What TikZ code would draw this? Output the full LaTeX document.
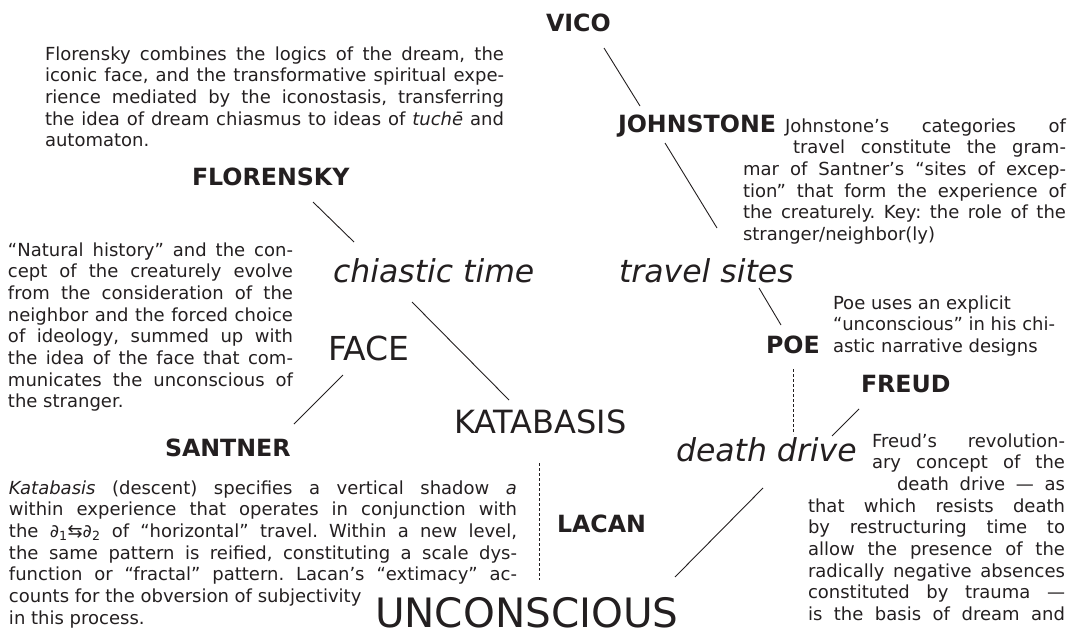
\documentclass[tikz,border=0pt]{standalone}
\usepackage{fontspec}
\setmainfont{DejaVu Sans}
\usepackage{xcolor}
\usepackage{tikz}

\definecolor{ink}{RGB}{35,31,32}

\begin{document}
\begin{tikzpicture}[
  x=1pt, y=-1pt,
  every node/.style={inner sep=0pt, outer sep=0pt, text=ink},
  thinker/.style={anchor=base west, font=\fontsize{23.7}{28}\selectfont\bfseries},
  theme/.style  ={anchor=base west, font=\fontsize{31.5}{36}\selectfont\itshape},
  concept/.style={anchor=base west},
  note/.style   ={anchor=base west, align=justify,
                  font=\fontsize{18}{21.7}\selectfont,
                  execute at begin node={\tolerance=9999\frenchspacing\relax}},
  link/.style   ={draw=ink, line width=0.9pt},
  dlink/.style  ={draw=ink, line width=0.8pt, dash pattern=on 3pt off 2pt}
]
\useasboundingbox (0,0) rectangle (1070,632);

%% ── notes ─────────────────────────────────────────────────────────────
\node[note, text width=459pt] (flnote) at (45,60)
  {Florensky combines the logics of the dream, the\linebreak
   iconic face, and the transformative spiritual expe-\linebreak
   rience mediated by the iconostasis, transferring\linebreak
   the idea of dream chiasmus to ideas of \textit{tuchē} and\linebreak
   automaton.};

\node[note, text width=285pt] (sanote) at (8,256)
  {“Natural history” and the con-\linebreak
   cept of the creaturely evolve\linebreak
   from the consideration of the\linebreak
   neighbor and the forced choice\linebreak
   of ideology, summed up with\linebreak
   the idea of the face that com-\linebreak
   municates the unconscious of\linebreak
   the stranger.};

\node[note, text width=323pt] (jonote) at (743,132)
  {\parshape 3 42pt 281pt 50pt 273pt 0pt 323pt
   Johnstone’s categories of\linebreak
   travel constitute the gram-\linebreak
   mar of Santner’s “sites of excep-\linebreak
   tion” that form the experience of\linebreak
   the creaturely. Key: the role of the\linebreak
   stranger/neighbor(ly)\par};

\node[note, text width=235pt] (poenote) at (833,309)
  {Poe uses an explicit\newline
   “unconscious” in his chi-\newline
   astic narrative designs};

\node[note, text width=508pt] (kanote) at (9,494)
  {\textit{Katabasis} (descent) specifies a vertical shadow \textit{a}\linebreak
   within experience that operates in conjunction with\linebreak
   the ∂\textsubscript{1}⇆∂\textsubscript{2} of “horizontal” travel. Within a new level,\linebreak
   the same pattern is reified, constituting a scale dys-\linebreak
   function or “fractal” pattern. Lacan’s “extimacy” ac-\linebreak
   counts for the obversion of subjectivity\newline
   in this process.};

\node[note, text width=257pt] (frnote) at (808,447)
  {\parshape 4 64pt 193pt 64pt 193pt 89pt 168pt 0pt 257pt
   \parfillskip=0pt
   Freud’s revolution-\linebreak
   ary concept of the\linebreak
   death drive — as\linebreak
   that which resists death\linebreak
   by restructuring time to\linebreak
   allow the presence of the\linebreak
   radically negative absences\linebreak
   constituted by trauma —\linebreak
   is the basis of dream and\par};

%% ── thinkers ──────────────────────────────────────────────────────────
\node[thinker] (vico)      at (546,31)    {VICO};
\node[thinker] (johnstone) at (618,132)   {JOHNSTONE};
\node[thinker] (florensky) at (192,185.5) {FLORENSKY};
\node[thinker] (poe)       at (766,353)   {POE};
\node[thinker] (freud)     at (861,392.5) {FREUD};
\node[thinker] (santner)   at (165,456)   {SANTNER};
\node[thinker] (lacan)     at (557,532)   {LACAN};

%% ── themes and concepts ───────────────────────────────────────────────
\node[theme] (chiastic) at (333,282) {chiastic time};
\node[theme] (travel)   at (619,282) {travel sites};
\node[theme] (death)    at (676,461) {death drive};

\node[concept, font=\fontsize{33}{36}\selectfont]   (face)        at (328,360) {FACE};
\node[concept, font=\fontsize{32}{36}\selectfont]   (katabasis)   at (454,433) {KATABASIS};
\node[concept, font=\fontsize{40.5}{44}\selectfont] (unconscious) at (375,627) {UNCONSCIOUS};

%% ── connectors ────────────────────────────────────────────────────────
\draw[link] ([shift={(58,17)}]vico.base west)       -- ([shift={(22,-26)}]johnstone.base west);
\draw[link] ([shift={(47,11)}]johnstone.base west)  -- ([shift={(98,-54)}]travel.base west);
\draw[link] ([shift={(121,16.5)}]florensky.base west) -- ([shift={(21,-40)}]chiastic.base west);
\draw[link] ([shift={(79,20)}]chiastic.base west)   -- ([shift={(55,-33)}]katabasis.base west);
\draw[link] ([shift={(15,15)}]face.base west)       -- ([shift={(129,-32)}]santner.base west);
\draw[link] ([shift={(140,6)}]travel.base west)     -- ([shift={(15,-28)}]poe.base west);
\draw[link] ([shift={(-2,16.5)}]freud.base west)    -- ([shift={(156,-25)}]death.base west);
\draw[link] ([shift={(87,27)}]death.base west)      -- ([shift={(300,-50)}]unconscious.base west);

\draw[dlink] ([shift={(27,16)}]poe.base west)       -- ([shift={(117,-27)}]death.base west);
\draw[dlink] ([shift={(85,30)}]katabasis.base west) -- ([shift={(164,-47)}]unconscious.base west);

\end{tikzpicture}
\end{document}
